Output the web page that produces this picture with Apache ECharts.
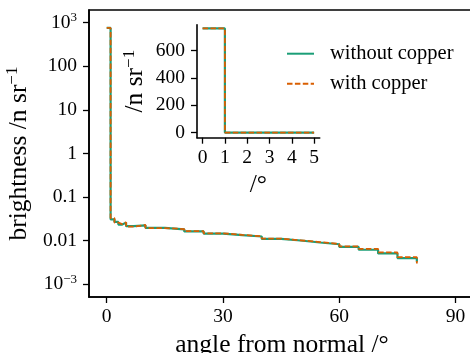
<!DOCTYPE html>
<html>
<head>
<meta charset="utf-8">
<script src="https://cdn.jsdelivr.net/npm/echarts@6/dist/echarts.min.js"></script>
<style>html,body{margin:0;padding:0;background:#fff}#c{width:470px;height:353px}</style>
</head>
<body>
<div id="c"></div>
<script>
// bin left edges (degrees); last entry is the end point of the final bin
const angleEdges = [0, 1, 2, 3, 4, 5, 7, 10, 15, 20, 25, 30, 35, 40, 45, 50, 55, 60, 65, 70, 75, 80];
const withoutCopper = [760, 0.031, 0.027, 0.0235, 0.026, 0.0215, 0.0225, 0.0197, 0.0182, 0.0163, 0.0146, 0.0134, 0.0125, 0.0110, 0.0101, 0.0091, 0.0083, 0.0072, 0.0062, 0.0051, 0.0040, 0.0033];
const withCopper = [760, 0.033, 0.026, 0.024, 0.0265, 0.021, 0.023, 0.0195, 0.0185, 0.0165, 0.0148, 0.0136, 0.0126, 0.0112, 0.0102, 0.0093, 0.0084, 0.0074, 0.0065, 0.0054, 0.0042, 0.0030];
const seriesNames = ['without copper', 'with copper'];
const mainYTicks = [1000, 100, 10, 1, 0.1, 0.01, 0.001];
const mainYTickLabels = ['10{s|3}', '100', '10', '1', '0.1', '0.01', '10{s|−3}'];
const mainXTicks = [0, 30, 60, 90];
const insetXTicks = [0, 1, 2, 3, 4, 5];
const insetYTicks = [0, 200, 400, 600];
const insetXMax = 5;

const FONT = 'Liberation Serif';
const GREEN = '#1b9e77', ORANGE = '#d95f02';
const lg = Math.log10;

function mainData(vals) { return angleEdges.map((x, i) => [x, lg(vals[i])]); }
function insetData(vals) { return angleEdges.map((x, i) => [x, vals[i]]).filter(p => p[0] <= insetXMax); }

const axisLineStyle = { color: '#000', width: 1.6 };
const tickStyle = { color: '#000', width: 1.3 };
const labelStyle = { color: '#000', fontFamily: FONT, fontSize: 19.5 };
const nameStyle = { fontFamily: FONT, fontSize: 25.5, color: '#000',
  rich: { s: { fontFamily: FONT, fontSize: 17, color: '#000', padding: [0, 0, 12, 0] } } };
const ylabelMap = {};
mainYTicks.forEach((v, i) => ylabelMap[lg(v).toFixed(3)] = mainYTickLabels[i]);

const chart = echarts.init(document.getElementById('c'), null, { renderer: 'canvas' });
chart.setOption({
  animation: false,
  backgroundColor: '#fff',
  grid: [
    { left: 89, top: 10, width: 386, height: 287, outerBoundsMode: 'none', containLabel: false,
      show: true, borderColor: '#000', borderWidth: 1.6, backgroundColor: 'transparent' },
    { left: 197, top: 24.7, width: 122.7, height: 113, outerBoundsMode: 'none', containLabel: false }
  ],
  legend: {
    left: 286, top: 43.2, padding: 0, orient: 'vertical', itemWidth: 27, itemHeight: 14, itemGap: 9,
    itemStyle: { opacity: 0 },
    textStyle: { fontFamily: FONT, fontSize: 20.5, color: '#000', padding: [0, 0, 0, 11] },
    data: seriesNames
  },
  xAxis: [
    {
      type: 'value', gridIndex: 0, min: -4.57, max: 95,
      name: 'angle from normal /°', nameLocation: 'middle', nameGap: 31,
      nameTextStyle: nameStyle,
      axisLine: { show: true, onZero: false, lineStyle: axisLineStyle },
      axisTick: { show: true, length: 6, lineStyle: tickStyle, customValues: mainXTicks },
      axisLabel: Object.assign({ margin: 10, customValues: mainXTicks }, labelStyle),
      splitLine: { show: false }
    },
    {
      type: 'value', gridIndex: 1, min: -0.25, max: 5.25,
      name: '/°', nameLocation: 'middle', nameGap: 35,
      nameTextStyle: nameStyle,
      axisLine: { show: true, onZero: false, lineStyle: axisLineStyle },
      axisTick: { show: true, length: 6, lineStyle: tickStyle, customValues: insetXTicks },
      axisLabel: Object.assign({ margin: 10, customValues: insetXTicks }, labelStyle),
      splitLine: { show: false }
    }
  ],
  yAxis: [
    {
      type: 'value', gridIndex: 0, min: -3.291, max: 3.291,
      name: 'brightness /n sr{s|−1}', nameLocation: 'middle', nameGap: 53, nameRotate: 90,
      nameTextStyle: nameStyle,
      axisLine: { show: true, onZero: false, lineStyle: axisLineStyle },
      axisTick: { show: true, length: 6, lineStyle: tickStyle, customValues: mainYTicks.map(lg) },
      axisLabel: Object.assign({
        margin: 12, customValues: mainYTicks.map(lg),
        formatter: v => ylabelMap[v.toFixed(3)] || '',
        rich: { s: { fontFamily: FONT, fontSize: 13, color: '#000', padding: [0, 0, 10, 0] } }
      }, labelStyle),
      splitLine: { show: false }
    },
    {
      type: 'value', gridIndex: 1, min: -37.5, max: 787.5,
      name: '/n sr{s|−1}', nameLocation: 'middle', nameGap: 47, nameRotate: 90,
      nameTextStyle: nameStyle,
      axisLine: { show: true, onZero: false, lineStyle: axisLineStyle },
      axisTick: { show: true, length: 6, lineStyle: tickStyle, customValues: insetYTicks },
      axisLabel: Object.assign({ margin: 12, customValues: insetYTicks }, labelStyle),
      splitLine: { show: false }
    }
  ],
  series: [
    { name: seriesNames[0], type: 'line', xAxisIndex: 0, yAxisIndex: 0, step: 'end', symbol: 'none',
      data: mainData(withoutCopper), lineStyle: { color: GREEN, width: 2.2 }, itemStyle: { color: GREEN }, z: 2 },
    { name: seriesNames[1], type: 'line', xAxisIndex: 0, yAxisIndex: 0, step: 'end', symbol: 'none',
      data: mainData(withCopper), lineStyle: { color: ORANGE, width: 1.8, type: [5.5, 2.4] }, itemStyle: { color: ORANGE }, z: 3 },
    { name: seriesNames[0], type: 'line', xAxisIndex: 1, yAxisIndex: 1, step: 'end', symbol: 'none',
      data: insetData(withoutCopper), lineStyle: { color: GREEN, width: 2.2 }, itemStyle: { color: GREEN }, z: 2 },
    { name: seriesNames[1], type: 'line', xAxisIndex: 1, yAxisIndex: 1, step: 'end', symbol: 'none',
      data: insetData(withCopper), lineStyle: { color: ORANGE, width: 1.8, type: [5.5, 2.4] }, itemStyle: { color: ORANGE }, z: 3 }
  ]
});
</script>
</body>
</html>
